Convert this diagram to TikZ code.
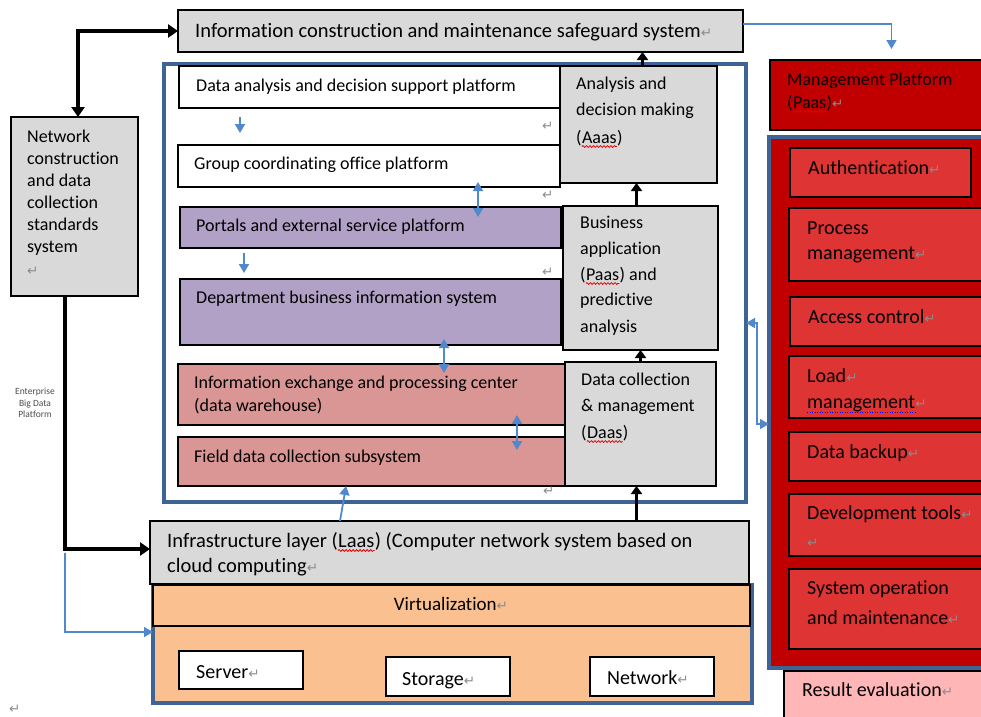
\documentclass[tikz,border=0pt]{standalone}
\usepackage{fontspec}
\setmainfont{Carlito}[Ligatures={NoCommon}]
\newfontfamily\markfont{DejaVu Sans}
\usetikzlibrary{arrows.meta,decorations.pathmorphing}

\definecolor{boxgray}{RGB}{217,217,217}
\definecolor{lilac}{RGB}{178,161,199}
\definecolor{rose}{RGB}{218,150,148}
\definecolor{peach}{RGB}{250,192,144}
\definecolor{darkred}{RGB}{192,0,0}
\definecolor{midred}{RGB}{222,52,52}
\definecolor{palered}{RGB}{255,182,182}
\definecolor{frameblue}{RGB}{62,100,150}
\definecolor{linkblue}{RGB}{80,135,205}
\definecolor{markgray}{RGB}{140,140,140}

% paragraph mark
\newcommand\retmark{{\markfont\color{markgray}\fontsize{13.5}{13.5}\selectfont ↵}}
% box: name, style, x1, y1, x2, y2 (y grows downwards)
\newcommand\mkbox[6]{\node[#2, minimum width={(#5-#3)*1pt}, minimum height={(#6-#4)*1pt}] (#1) at (#3,#4) {};}
% text line: name, style, x, baseline y, text
\newcommand\tx[5]{\node[#2] (#1) at (#3,#4) {#5};}
% text continuing on the same baseline after another node
\newcommand\after[4]{\node[#2, anchor=base west] (#1) at (#3.base east) {#4};}

\tikzset{
  box/.style={draw=black, line width=1.2pt, inner sep=0pt, outer sep=0pt, anchor=north west},
  blueframe/.style={draw=frameblue, line width=3.5pt, inner sep=0pt, outer sep=0pt, anchor=north west},
  txt/.style={anchor=base west, inner sep=0pt, font=\fontsize{18}{18}\selectfont},
  bigtxt/.style={anchor=base west, inner sep=0pt, font=\fontsize{20}{20}\selectfont},
  wide/.style={anchor=base west, inner sep=0pt, font=\fontsize{20.5}{20.5}\selectfont},
  tinytxt/.style={anchor=base, inner sep=0pt, font=\fontsize{9.5}{9.5}\selectfont, text=black!70},
  pmark/.style={anchor=base west, inner sep=0pt},
  heavy/.style={line width=4pt, line join=miter},
  heavytip/.tip={Triangle[length=10pt,width=13pt]},
  uparrow/.style={line width=3.5pt, -{Triangle[length=8pt,width=11pt]}},
  thinlink/.style={draw=linkblue, line width=1.5pt},
  linktip/.tip={Triangle[length=9pt,width=10pt]},
  smallarrow/.style={draw=linkblue, line width=1.8pt},
  spellwave/.style={draw=red!90!black, line width=0.8pt, decorate,
    decoration={snake, amplitude=0.9pt, segment length=3.5pt}},
  grammardots/.style={draw=blue, line width=1pt, dash pattern=on 1pt off 1.5pt},
}

\begin{document}
\begin{tikzpicture}[x=1pt, y=-1pt]
\useasboundingbox (0,0) rectangle (981,716);
\clip (0,0) rectangle (981,716);

% ---- frames ----
\mkbox{bigframe}{blueframe}{164}{64}{746}{502}
\mkbox{mgmtframe}{blueframe, fill=darkred}{769}{137}{990}{668}
\mkbox{virtframe}{blueframe, fill=peach}{153}{585}{752}{703}

% ---- top and left ----
\mkbox{top}{box, fill=boxgray}{178}{10}{743}{52}
\mkbox{netstd}{box, fill=boxgray}{11}{117}{138}{296}

% ---- platform rows ----
\mkbox{dasp}{box, fill=white}{179}{66}{560}{108}
\mkbox{gcop}{box, fill=white}{178}{145}{560}{187}
\mkbox{portal}{box, fill=lilac}{180}{207}{561}{248}
\mkbox{dbis}{box, fill=lilac}{180}{279}{561}{345}
\mkbox{iepc}{box, fill=rose}{178}{364}{565}{425}
\mkbox{fdcs}{box, fill=rose}{178}{437}{565}{486}

% ---- service layers ----
\mkbox{aadm}{box, fill=boxgray}{560}{66}{717}{183}
\mkbox{bapa}{box, fill=boxgray}{563}{206}{718}{350}
\mkbox{dcm}{box, fill=boxgray}{565}{362}{716}{486}

% ---- infrastructure ----
\mkbox{infra}{box, fill=boxgray}{150}{521}{749}{584}
\mkbox{virt}{box, fill=peach}{153}{585}{750}{626}
\mkbox{server}{box, fill=white}{179}{651}{303}{689}
\mkbox{storage}{box, fill=white}{386}{657}{510}{696}
\mkbox{network}{box, fill=white}{590}{657}{714}{696}

% ---- management column ----
\mkbox{mgmt}{box, fill=darkred}{770}{60}{990}{130}
\mkbox{auth}{box, fill=midred}{790}{148}{971}{197}
\mkbox{procm}{box, fill=midred}{789}{208}{990}{281}
\mkbox{access}{box, fill=midred}{790}{297}{990}{346}
\mkbox{load}{box, fill=midred}{789}{356}{990}{418}
\mkbox{backup}{box, fill=midred}{789}{432}{990}{481}
\mkbox{devtools}{box, fill=midred}{789}{494}{990}{556}
\mkbox{sysop}{box, fill=midred}{789}{569}{990}{649}
\mkbox{result}{box, fill=palered}{784}{671}{990}{730}

% ---- texts ----
\tx{ttop}{wide}{195}{37}{Information construction and maintenance safeguard system\retmark}
\tx{tdasp}{txt}{196}{91}{Data analysis and decision support platform}
\tx{tgcop}{txt}{194}{169}{Group coordinating office platform}
\tx{tportal}{txt}{196}{231}{Portals and external service platform}
\tx{tdbis}{txt}{196}{303}{Department business information system}
\tx{tiepcA}{txt}{194}{388}{Information exchange and processing center}
\tx{tiepcB}{txt}{194}{411}{(data warehouse)}
\tx{tfdcs}{txt}{194}{462}{Field data collection subsystem}

\tx{taadmA}{txt}{576}{89}{Analysis and}
\tx{taadmB}{txt}{576}{115}{decision making}
\tx{taadmC}{txt}{576}{143}{(}
\after{waadm}{txt}{taadmC}{Aaas}
\after{taadmD}{txt}{waadm}{)}
\tx{tbapaA}{txt}{580}{228}{Business}
\tx{tbapaB}{txt}{580}{254}{application}
\tx{tbapaC}{txt}{580}{280}{(}
\after{wbapa}{txt}{tbapaC}{Paas}
\after{tbapaF}{txt}{wbapa}{) and}
\tx{tbapaD}{txt}{580}{305}{predictive}
\tx{tbapaE}{txt}{580}{332}{analysis}
\tx{tdcmA}{txt}{581}{385}{Data collection}
\tx{tdcmB}{txt}{581}{411}{\& management}
\tx{tdcmC}{txt}{581}{438}{(}
\after{wdcm}{txt}{tdcmC}{Daas}
\after{tdcmD}{txt}{wdcm}{)}

\tx{tnetA}{txt}{27}{142}{Network}
\tx{tnetB}{txt}{27}{164}{construction}
\tx{tnetC}{txt}{27}{186}{and data}
\tx{tnetD}{txt}{27}{208}{collection}
\tx{tnetE}{txt}{27}{230}{standards}
\tx{tnetF}{txt}{27}{252}{system}
\tx{tnetG}{pmark}{27}{275}{\retmark}

\tx{tentA}{tinytxt}{35}{394}{Enterprise}
\tx{tentB}{tinytxt}{35}{406}{Big Data}
\tx{tentC}{tinytxt}{35}{417}{Platform}

\tx{tinfraA}{wide}{167}{547}{Infrastructure layer (}
\after{winfra}{wide}{tinfraA}{Laas}
\after{tinfraC}{wide}{winfra}{) (Computer network system based on}
\tx{tinfraB}{wide}{167}{572}{cloud computing\retmark}
\node[anchor=base, inner sep=0pt, font=\fontsize{19}{19}\selectfont] (tvirt) at (451,610) {Virtualization\retmark};
\tx{tserver}{bigtxt}{196}{678}{Server\retmark}
\tx{tstorage}{bigtxt}{402}{685}{Storage\retmark}
\tx{tnetwork}{bigtxt}{607}{684}{Network\retmark}

\tx{tmgmtA}{txt}{787}{85}{Management Platform}
\tx{tmgmtB}{txt}{787}{108}{(}
\after{wmgmt}{txt}{tmgmtB}{Paas}
\after{tmgmtC}{txt}{wmgmt}{)\retmark}
\tx{tauth}{bigtxt}{808}{174}{Authentication\retmark}
\tx{tprocA}{bigtxt}{807}{234}{Process}
\tx{tprocB}{bigtxt}{807}{259}{management\retmark}
\tx{taccess}{bigtxt}{808}{323}{Access control\retmark}
\tx{tloadA}{bigtxt}{807}{382}{Load\retmark}
\tx{tloadB}{bigtxt}{807}{408}{management}
\after{tloadC}{pmark}{tloadB}{\retmark}
\tx{tbackup}{bigtxt}{807}{458}{Data backup\retmark}
\tx{tdevA}{bigtxt}{807}{519}{Development tools\retmark}
\tx{tdevB}{pmark}{807}{547}{\retmark}
\tx{tsysA}{bigtxt}{807}{594}{System operation}
\tx{tsysB}{bigtxt}{807}{624}{and maintenance\retmark}
\tx{tresult}{bigtxt}{802}{696}{Result evaluation\retmark}

% loose paragraph marks
\tx{pmA}{pmark}{542}{130}{\retmark}
\tx{pmB}{pmark}{542}{199}{\retmark}
\tx{pmC}{pmark}{542}{276}{\retmark}
\tx{pmD}{pmark}{543}{495}{\retmark}
\tx{pmE}{pmark}{9}{713}{\retmark}

% proofing underlines
\foreach \w in {waadm, wbapa, wdcm, winfra, wmgmt}
  \draw[spellwave] ([yshift=-3.5pt]\w.base west) -- ([yshift=-3.5pt]\w.base east);
\draw[grammardots] ([yshift=-4pt]tloadB.base west) -- ([yshift=-4pt]tloadB.base east);

% ---- connectors ----
\coordinate (forkA) at ([xshift=-9.5pt]netstd.south);
\draw[thinlink, -{linktip}] (forkA |- infra.west) |- ([yshift=12pt]virtframe.west);
\draw[heavy, {heavytip}-{heavytip}] ([xshift=3.5pt]netstd.north) |- (top.west);
\draw[heavy, -{heavytip}] (forkA) |- ([yshift=3.5pt]infra.west);

\draw[thinlink, -{linktip}, shorten >=11pt] ([yshift=7pt]top.east) -| ([xshift=11.5pt]mgmt.north);
\draw[thinlink, {linktip}-{linktip}] ([yshift=-40pt]bigframe.east) -- ++(11,0) |- ([yshift=-21.5pt]mgmtframe.west);

\draw[uparrow] ([xshift=4pt]aadm.north) -- ([xshift=4pt]aadm.north |- top.south);
\draw[uparrow] ([xshift=-4pt]bapa.north) -- ([xshift=-4pt]bapa.north |- aadm.south);
\draw[uparrow] (dcm.north) -- (dcm.north |- bapa.south);
\draw[uparrow] ([xshift=-4pt]dcm.south |- infra.north) -- ([xshift=-4pt]dcm.south);

\draw[smallarrow, -{linktip}, shorten <=9pt, shorten >=12pt] ([xshift=61pt]dasp.south west) -- ([xshift=61pt]dasp.south west |- gcop.north);
\draw[smallarrow, {linktip}-{linktip}, shorten <=-5pt, shorten >=-10pt] ([xshift=300pt]gcop.south west) -- ([xshift=300pt]gcop.south west |- portal.north);
\draw[smallarrow, -{linktip}, shorten <=5pt, shorten >=6pt] ([xshift=64pt]portal.south west) -- ([xshift=64pt]portal.south west |- dbis.north);
\draw[smallarrow, {linktip}-{linktip}, shorten <=-6pt, shorten >=-9pt] ([xshift=264pt]dbis.south west) -- ([xshift=264pt]dbis.south west |- iepc.north);
\draw[smallarrow, {linktip}-{linktip}, shorten <=-10pt, shorten >=-13pt] ([xshift=339pt]iepc.south west) -- ([xshift=339pt]iepc.south west |- fdcs.north);
\draw[smallarrow, -{linktip}] ([xshift=190pt]infra.north west) -- ([xshift=168pt]fdcs.south west);
\end{tikzpicture}
\end{document}
